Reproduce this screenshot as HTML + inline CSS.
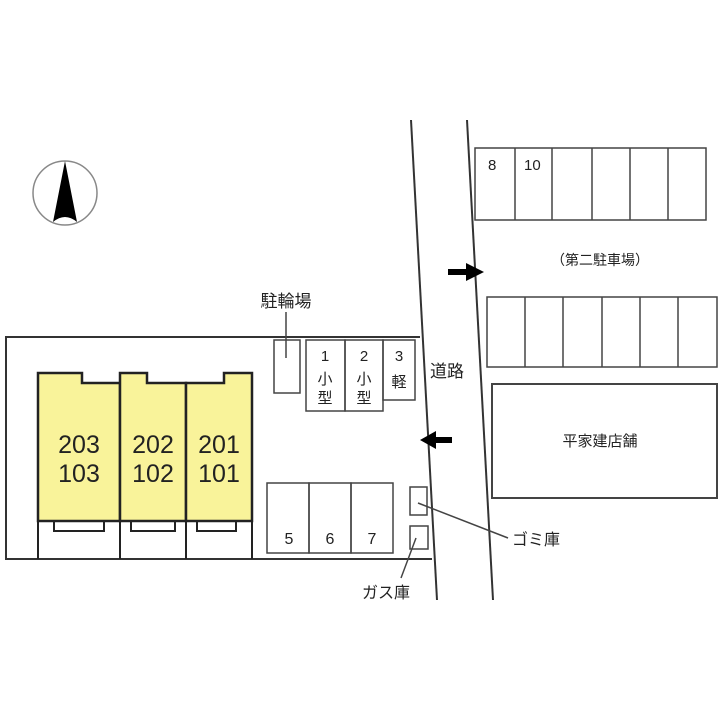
<!DOCTYPE html>
<html><head><meta charset="utf-8"><style>
html,body{margin:0;padding:0;background:#fff;}
svg{display:block;}
text{font-family:"Liberation Sans","Noto Sans CJK JP",sans-serif;fill:#222;}
</style></head><body>
<svg width="720" height="720" viewBox="0 0 720 720" xmlns="http://www.w3.org/2000/svg">
<rect width="720" height="720" fill="#fff"/>
<!-- compass -->
<circle cx="65" cy="193" r="32" fill="none" stroke="#888" stroke-width="1.5"/>
<path d="M65 161 L53 222 Q65 212 77 222 Z" fill="#000"/>
<!-- road -->
<line x1="411" y1="120" x2="437" y2="600" stroke="#333" stroke-width="2"/>
<line x1="467" y1="120" x2="493" y2="600" stroke="#333" stroke-width="2"/>
<!-- site -->
<polyline points="420,337 6,337 6,559 432,559" fill="none" stroke="#333" stroke-width="2"/>
<!-- buildings -->
<g stroke="#222" stroke-width="2.5" fill="#f9f39a">
<path d="M38 373 H82 V383 H120 V521 H38 Z"/>
<path d="M120 373 H147 V383 H186 V521 H120 Z"/>
<path d="M186 383 H224 V373 H252 V521 H186 Z"/>
</g>
<g stroke="#222" stroke-width="2" fill="none">
<line x1="38" y1="521" x2="38" y2="559"/>
<line x1="120" y1="521" x2="120" y2="559"/>
<line x1="186" y1="521" x2="186" y2="559"/>
<line x1="252" y1="521" x2="252" y2="559"/>
<rect x="54" y="521" width="50" height="10"/>
<rect x="131" y="521" width="44" height="10"/>
<rect x="197" y="521" width="39" height="10"/>
</g>
<g font-size="25" text-anchor="middle">
<text x="79" y="453">203</text><text x="79" y="482">103</text>
<text x="153" y="453">202</text><text x="153" y="482">102</text>
<text x="219" y="453">201</text><text x="219" y="482">101</text>
</g>
<!-- bicycle -->
<rect x="274" y="340" width="26" height="53" fill="none" stroke="#444" stroke-width="1.5"/>
<line x1="286" y1="312" x2="286" y2="358" stroke="#444" stroke-width="1.5"/>
<text x="286" y="307" font-size="17" text-anchor="middle">駐輪場</text>
<!-- parking 1-3 -->
<g fill="none" stroke="#444" stroke-width="1.5">
<rect x="306" y="340" width="39" height="71"/>
<rect x="345" y="340" width="38" height="71"/>
<rect x="383" y="340" width="32" height="60"/>
</g>
<g font-size="15" text-anchor="middle">
<text x="325" y="361">1</text><text x="325" y="384">小</text><text x="325" y="403">型</text>
<text x="364" y="361">2</text><text x="364" y="384">小</text><text x="364" y="403">型</text>
<text x="399" y="361">3</text><text x="399" y="387">軽</text>
</g>
<!-- parking 5-7 -->
<g fill="none" stroke="#444" stroke-width="1.5">
<rect x="267" y="483" width="42" height="70"/>
<rect x="309" y="483" width="42" height="70"/>
<rect x="351" y="483" width="42" height="70"/>
<rect x="410" y="487" width="17" height="28"/>
<rect x="410" y="526" width="18" height="23"/>
<line x1="418" y1="503" x2="508" y2="538"/>
<line x1="416" y1="538" x2="401" y2="578"/>
</g>
<g font-size="16" text-anchor="middle">
<text x="289" y="544">5</text><text x="330" y="544">6</text><text x="372" y="544">7</text>
</g>
<text x="512" y="545" font-size="16">ゴミ庫</text>
<text x="362" y="598" font-size="16">ガス庫</text>
<text x="430" y="377" font-size="17">道路</text>
<!-- arrows -->
<path d="M448 269 H466 V263 L484 272 L466 281 V275 H448 Z" fill="#000"/>
<path d="M452 437 H436 V431 L420 440 L436 449 V443 H452 Z" fill="#000"/>
<!-- second lot -->
<g fill="none" stroke="#444" stroke-width="1.5">
<rect x="475" y="148" width="231" height="72"/>
<line x1="515" y1="148" x2="515" y2="220"/><line x1="552" y1="148" x2="552" y2="220"/>
<line x1="592" y1="148" x2="592" y2="220"/><line x1="630" y1="148" x2="630" y2="220"/>
<line x1="668" y1="148" x2="668" y2="220"/>
<rect x="487" y="297" width="230" height="70"/>
<line x1="525" y1="297" x2="525" y2="367"/><line x1="563" y1="297" x2="563" y2="367"/>
<line x1="602" y1="297" x2="602" y2="367"/><line x1="640" y1="297" x2="640" y2="367"/>
<line x1="678" y1="297" x2="678" y2="367"/>
<rect x="492" y="384" width="225" height="114" stroke-width="2"/>
</g>
<text x="488" y="170" font-size="15">8</text>
<text x="524" y="170" font-size="15">10</text>
<text x="600" y="265" font-size="14" text-anchor="middle">（第二駐車場）</text>
<text x="600" y="446" font-size="15" text-anchor="middle">平家建店舗</text>
</svg>
</body></html>
